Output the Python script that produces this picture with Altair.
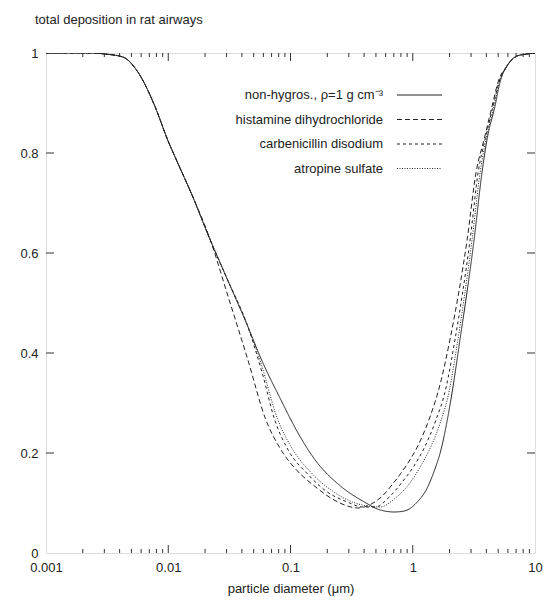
import altair as alt
import pandas as pd

labels = ["non-hygros., ρ=1 g cm⁻³", "histamine dihydrochloride",
          "carbenicillin disodium", "atropine sulfate"]
dashes = [[1, 0], [5, 3], [3, 3], [1, 1.5]]

solid_x = [0.001, 0.00242, 0.00303, 0.00425, 0.00564, 0.00776, 0.0099, 0.01196, 0.01527, 0.02223,
           0.0306, 0.0446, 0.0590, 0.0828, 0.114, 0.157, 0.256, 0.402, 0.543, 0.706, 0.853, 1.089,
           1.313, 1.498, 1.709, 2.023, 2.44, 3.18, 3.69, 4.06, 4.71, 5.18, 5.90, 7.13, 8.61, 10]
solid_y = [1.0, 1.0, 0.998, 0.992, 0.962, 0.894, 0.826, 0.780, 0.722, 0.624,
           0.546, 0.454, 0.382, 0.308, 0.242, 0.188, 0.134, 0.102, 0.086, 0.082, 0.084, 0.102,
           0.130, 0.164, 0.208, 0.298, 0.428, 0.628, 0.762, 0.828, 0.894, 0.942, 0.974, 0.994, 0.998, 1.0]

hist_x = [0.001, 0.00242, 0.00303, 0.00425, 0.00564, 0.00776, 0.0099, 0.01196, 0.01527, 0.02223,
          0.0306, 0.0446, 0.0625, 0.0828, 0.114, 0.157, 0.220, 0.292, 0.352, 0.442, 0.564, 0.706,
          0.869, 1.089, 1.364, 1.677, 2.02, 2.79, 3.30, 3.84, 4.46, 4.99, 5.90, 7.13, 8.61, 10]
hist_y = [1.0, 1.0, 0.998, 0.992, 0.962, 0.894, 0.826, 0.780, 0.722, 0.624,
          0.516, 0.388, 0.268, 0.208, 0.164, 0.134, 0.108, 0.094, 0.090, 0.096, 0.114, 0.142,
          0.172, 0.212, 0.268, 0.338, 0.428, 0.628, 0.762, 0.828, 0.894, 0.942, 0.974, 0.994, 0.998, 1.0]

carb_x = [0.001, 0.00242, 0.00303, 0.00425, 0.00564, 0.00776, 0.0099, 0.01196, 0.01527, 0.02223,
          0.0306, 0.0446, 0.059, 0.0739, 0.0947, 0.138, 0.200, 0.292, 0.387, 0.494, 0.643, 0.820,
          1.01, 1.24, 1.527, 1.877, 2.22, 2.95, 3.43, 3.91, 4.54, 5.08, 5.90, 7.13, 8.61, 10]
carb_y = [1.0, 1.0, 0.998, 0.992, 0.962, 0.894, 0.826, 0.780, 0.722, 0.624,
          0.546, 0.454, 0.358, 0.268, 0.208, 0.158, 0.122, 0.102, 0.092, 0.092, 0.112, 0.142,
          0.172, 0.210, 0.262, 0.332, 0.428, 0.628, 0.762, 0.828, 0.894, 0.942, 0.974, 0.994, 0.998, 1.0]

atro_x = [0.001, 0.00242, 0.00303, 0.00425, 0.00564, 0.00776, 0.0099, 0.01196, 0.01527, 0.02223,
          0.0306, 0.0446, 0.0569, 0.0783, 0.1038, 0.151, 0.220, 0.321, 0.426, 0.543, 0.706, 0.935,
          1.15, 1.39, 1.677, 1.986, 2.31, 3.06, 3.56, 3.98, 4.62, 5.10, 5.90, 7.13, 8.61, 10]
atro_y = [1.0, 1.0, 0.998, 0.992, 0.962, 0.894, 0.826, 0.780, 0.722, 0.624,
          0.546, 0.454, 0.382, 0.268, 0.208, 0.158, 0.124, 0.102, 0.094, 0.092, 0.108, 0.138,
          0.172, 0.210, 0.260, 0.324, 0.418, 0.628, 0.762, 0.828, 0.894, 0.942, 0.974, 0.994, 0.998, 1.0]

x_ticks = [0.001, 0.01, 0.1, 1, 10]
y_ticks = [0, 0.2, 0.4, 0.6, 0.8, 1]
x_minor = [m * d for d in [0.001, 0.01, 0.1, 1] for m in range(2, 10)]
x_major_inner = [0.01, 0.1, 1]
y_inner = [0.2, 0.4, 0.6, 0.8]

rows = []
for name, xs, ys in zip(labels, [solid_x, hist_x, carb_x, atro_x], [solid_y, hist_y, carb_y, atro_y]):
    for a, b in zip(xs, ys):
        rows.append({"series": name, "x": a, "y": b})
df = pd.DataFrame(rows)

W, H = 489, 500
FONT = "Liberation Sans"
INK = "#222222"
xscale = alt.Scale(type="log", domain=[0.001, 10])
yscale = alt.Scale(domain=[0, 1])

x_axis = alt.Axis(values=x_ticks, format="~g", title="particle diameter (μm)", ticks=False,
                  domain=False, grid=False, labelPadding=8, titlePadding=8, labelFontSize=13,
                  titleFontSize=13, titleFontWeight="normal", labelFlush=False,
                  labelColor=INK, titleColor=INK, labelFont=FONT, titleFont=FONT)
y_axis = alt.Axis(values=y_ticks, format="~g", title="", ticks=False, domain=False,
                  grid=False, labelPadding=8, labelFontSize=13, labelColor=INK, labelFont=FONT,
                  labelFlush=False)


def X(field):
    return alt.X(field, scale=xscale, axis=x_axis)


def Y(field):
    return alt.Y(field, scale=yscale, axis=y_axis)


lines = alt.Chart(df).mark_line(color=INK, strokeWidth=1, interpolate="monotone", clip=True).encode(
    x=X("x:Q"),
    y=Y("y:Q"),
    strokeDash=alt.StrokeDash("series:N", scale=alt.Scale(domain=labels, range=dashes), legend=None),
)


def xtick_layer(vals, length):
    d = pd.DataFrame({"x": vals})
    base = alt.Chart(d).mark_rule(color="#333333", strokeWidth=1)
    bot = base.encode(x=X("x:Q"), y=alt.value(H), y2=alt.value(H - length))
    top = base.encode(x=X("x:Q"), y=alt.value(0), y2=alt.value(length))
    return [bot, top]


def ytick_layer(vals, length):
    d = pd.DataFrame({"y": vals})
    base = alt.Chart(d).mark_rule(color="#333333", strokeWidth=1)
    left = base.encode(y=Y("y:Q"), x=alt.value(0), x2=alt.value(length))
    right = base.encode(y=Y("y:Q"), x=alt.value(W), x2=alt.value(W - length))
    return [left, right]


tick_layers = xtick_layer(x_minor, 4) + xtick_layer(x_major_inner, 8) + ytick_layer(y_inner, 8)

leg_layers = []
for i, lab in enumerate(labels):
    yy = 42 + i * 24.5
    sub = pd.DataFrame({"series": [lab]})
    t = alt.Chart(sub).mark_text(align="right", baseline="middle", fontSize=13, font=FONT, color=INK).encode(
        x=alt.value(337), y=alt.value(yy), text="series:N")
    r = alt.Chart(sub).mark_rule(color=INK, strokeWidth=1).encode(
        x=alt.value(351), x2=alt.value(396), y=alt.value(yy),
        strokeDash=alt.StrokeDash("series:N", scale=alt.Scale(domain=labels, range=dashes), legend=None))
    leg_layers += [t, r]

chart = alt.layer(lines, *tick_layers, *leg_layers).properties(
    width=W, height=H,
    autosize=alt.AutoSizeParams(type="none"),
    padding={"left": 38, "top": 45, "right": 8, "bottom": 44},
    title=alt.TitleParams("total deposition in rat airways", anchor="start", frame="group", dx=-11,
                          offset=20, fontSize=13, fontWeight="normal", font=FONT, color=INK),
).configure_view(stroke="#333333", strokeWidth=1).configure(font=FONT)

chart.save("out.html", embed_options={"renderer": "svg", "actions": False})
